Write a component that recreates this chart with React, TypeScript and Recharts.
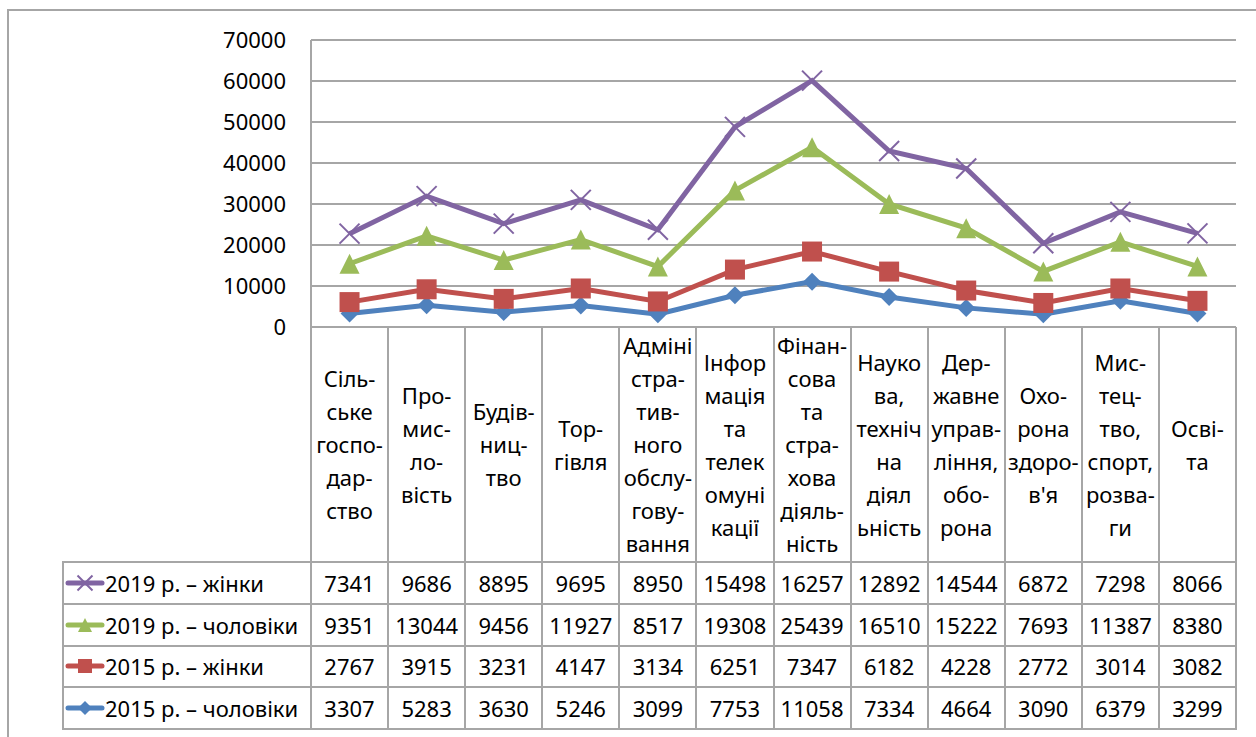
import { Area, CartesianGrid, ComposedChart, XAxis, YAxis } from "recharts";

const categories = [
  "Сіль-\nське\nгоспо-\nдар-\nство",
  "Про-\nмис-\nло-\nвість",
  "Будів-\nниц-\nтво",
  "Тор-\nгівля",
  "Адміні\nстра-\nтив-\nного\nобслу-\nгову-\nвання",
  "Інфор\nмація\nта\nтелек\nомуні\nкації",
  "Фінан-\nсова\nта\nстра-\nхова\nдіяль-\nність",
  "Науко\nва,\nтехніч\nна\nдіял\nьність",
  "Дер-\nжавне\nуправ-\nління,\nобо-\nрона",
  "Охо-\nрона\nздоро-\nв'я",
  "Мис-\nтец-\nтво,\nспорт,\nрозва-\nги",
  "Осві-\nта",
];

const women2019 = [7341, 9686, 8895, 9695, 8950, 15498, 16257, 12892, 14544, 6872, 7298, 8066];
const men2019 = [9351, 13044, 9456, 11927, 8517, 19308, 25439, 16510, 15222, 7693, 11387, 8380];
const women2015 = [2767, 3915, 3231, 4147, 3134, 6251, 7347, 6182, 4228, 2772, 3014, 3082];
const men2015 = [3307, 5283, 3630, 5246, 3099, 7753, 11058, 7334, 4664, 3090, 6379, 3299];

const yTicks = [0, 10000, 20000, 30000, 40000, 50000, 60000, 70000];

type MarkerType = "diamond" | "square" | "triangle" | "cross";

type Series = {
  color: string;
  key: string;
  marker: MarkerType;
  name: string;
  values: number[];
};

// stack order: bottom first
const SERIES: Series[] = [
  { color: "#4F81BD", key: "men2015", marker: "diamond", name: "2015 р. – чоловіки", values: men2015 },
  { color: "#C0504D", key: "women2015", marker: "square", name: "2015 р. – жінки", values: women2015 },
  { color: "#9BBB59", key: "men2019", marker: "triangle", name: "2019 р. – чоловіки", values: men2019 },
  { color: "#8064A2", key: "women2019", marker: "cross", name: "2019 р. – жінки", values: women2019 },
];

const TABLE_ROWS = [...SERIES].reverse();

const chartData = categories.map((label, i) => {
  const row: Record<string, string | number> = { label };
  SERIES.forEach((s) => {
    row[s.key] = s.values[i];
  });
  return row;
});

const W = 1256;
const H = 737;
const PLOT_LEFT = 311;
const PLOT_RIGHT = 1236;
const PLOT_TOP = 40;
const PLOT_BOTTOM = 327;
const Y_AXIS_W = 60;
const COL_W = (PLOT_RIGHT - PLOT_LEFT) / categories.length;
const TABLE_LEFT = 63;
const HEADER_BOTTOM = 562;
const TABLE_BOTTOM = 729;
const ROW_H = (TABLE_BOTTOM - HEADER_BOTTOM) / TABLE_ROWS.length;
const GRAY = "#a6a6a6";
const FONT = '"Noto Sans", "Open Sans", sans-serif';

function Marker({ color, cx, cy, size, type }: { color: string; cx: number; cy: number; size: number; type: MarkerType }) {
  const h = size / 2;
  if (type === "diamond") {
    return <polygon fill={color} points={`${cx},${cy - h} ${cx + h},${cy} ${cx},${cy + h} ${cx - h},${cy}`} />;
  }
  if (type === "square") {
    return <rect fill={color} height={size} width={size} x={cx - h} y={cy - h} />;
  }
  if (type === "triangle") {
    return <polygon fill={color} points={`${cx},${cy - h} ${cx + h},${cy + h} ${cx - h},${cy + h}`} />;
  }
  return (
    <g stroke={color} strokeWidth={2}>
      <line x1={cx - h} x2={cx + h} y1={cy - h} y2={cy + h} />
      <line x1={cx - h} x2={cx + h} y1={cy + h} y2={cy - h} />
    </g>
  );
}

function LegendKey({ series }: { series: Series }) {
  return (
    <svg height={20} style={{ flex: "none" }} width={40}>
      <line stroke={series.color} strokeLinecap="round" strokeWidth={5} x1={3} x2={37} y1={10} y2={10} />
      <Marker color={series.color} cx={20} cy={10} size={series.marker === "cross" ? 15 : 14} type={series.marker} />
    </svg>
  );
}

function Line({ h, left, top, w }: { h: number; left: number; top: number; w: number }) {
  return <div style={{ background: GRAY, height: h, left, position: "absolute", top, width: w }} />;
}

function DataTable() {
  const colX = (i: number) => PLOT_LEFT + i * COL_W;
  const rowY = (i: number) => HEADER_BOTTOM + i * ROW_H;

  return (
    <div style={{ height: H, left: 0, pointerEvents: "none", position: "absolute", top: 0, width: W }}>
      {categories.map((label, i) => (
        <div
          key={label}
          style={{
            alignItems: "center",
            display: "flex",
            fontSize: 22,
            height: HEADER_BOTTOM - PLOT_BOTTOM,
            justifyContent: "center",
            left: colX(i),
            lineHeight: "33px",
            position: "absolute",
            textAlign: "center",
            top: PLOT_BOTTOM,
            whiteSpace: "pre-line",
            width: COL_W,
          }}
        >
          {label}
        </div>
      ))}

      {TABLE_ROWS.map((s, r) => (
        <div key={s.key}>
          <div
            style={{
              alignItems: "center",
              display: "flex",
              fontSize: 22,
              height: ROW_H,
              left: TABLE_LEFT + 2,
              position: "absolute",
              top: rowY(r),
              whiteSpace: "nowrap",
              width: PLOT_LEFT - TABLE_LEFT - 2,
            }}
          >
            <LegendKey series={s} />
            <span>{s.name}</span>
          </div>
          {s.values.map((v, i) => (
            <div
              key={i}
              style={{
                alignItems: "center",
                display: "flex",
                fontSize: 22,
                height: ROW_H,
                justifyContent: "center",
                left: colX(i),
                position: "absolute",
                top: rowY(r),
                width: COL_W,
              }}
            >
              {v}
            </div>
          ))}
        </div>
      ))}

      {/* table borders */}
      {categories.map((_, i) => (
        <Line h={TABLE_BOTTOM - PLOT_BOTTOM + 1} key={`v${i}`} left={colX(i) - 1} top={PLOT_BOTTOM} w={2} />
      ))}
      <Line h={TABLE_BOTTOM - PLOT_BOTTOM + 1} left={PLOT_RIGHT - 1} top={PLOT_BOTTOM} w={2} />
      <Line h={TABLE_BOTTOM - HEADER_BOTTOM + 1} left={TABLE_LEFT - 1} top={HEADER_BOTTOM} w={2} />
      {TABLE_ROWS.map((s, r) => (
        <Line h={2} key={`h${s.key}`} left={TABLE_LEFT - 1} top={rowY(r) - 1} w={PLOT_RIGHT - TABLE_LEFT + 2} />
      ))}
      <Line h={2} left={TABLE_LEFT - 1} top={TABLE_BOTTOM - 1} w={PLOT_RIGHT - TABLE_LEFT + 2} />

      {/* outer frame */}
      <Line h={2} left={7} top={9} w={W - 7} />
      <Line h={H - 9} left={7} top={9} w={2} />
    </div>
  );
}

export default function App() {
  return (
    <div style={{ background: "#fff", color: "#000", fontFamily: FONT, height: H, left: 0, overflow: "hidden", position: "absolute", top: 0, width: W }}>
      <ComposedChart
        data={chartData}
        height={H}
        margin={{ bottom: H - PLOT_BOTTOM, left: PLOT_LEFT - Y_AXIS_W, right: W - PLOT_RIGHT, top: PLOT_TOP }}
        width={W}
      >
        <CartesianGrid stroke={GRAY} strokeWidth={2} vertical={false} />
        <XAxis dataKey="label" hide padding={{ left: COL_W / 2, right: COL_W / 2 }} />
        <YAxis
          axisLine={{ stroke: GRAY, strokeWidth: 2 }}
          domain={[0, 70000]}
          tick={{ fill: "#000", fontFamily: FONT, fontSize: 22 }}
          tickLine={false}
          tickMargin={19}
          ticks={yTicks}
          width={Y_AXIS_W}
        />
        {SERIES.map((s) => (
          <Area
            activeDot={false}
            dataKey={s.key}
            dot={(p: { cx: number; cy: number; index: number }) => (
              <Marker color={s.color} cx={p.cx} cy={p.cy} key={`${s.key}-${p.index}`} size={s.marker === "diamond" ? 18 : 20} type={s.marker} />
            )}
            fill="none"
            isAnimationActive={false}
            key={s.key}
            name={s.name}
            stackId="total"
            stroke={s.color}
            strokeWidth={5}
            type="linear"
          />
        ))}
      </ComposedChart>
      <DataTable />
    </div>
  );
}
